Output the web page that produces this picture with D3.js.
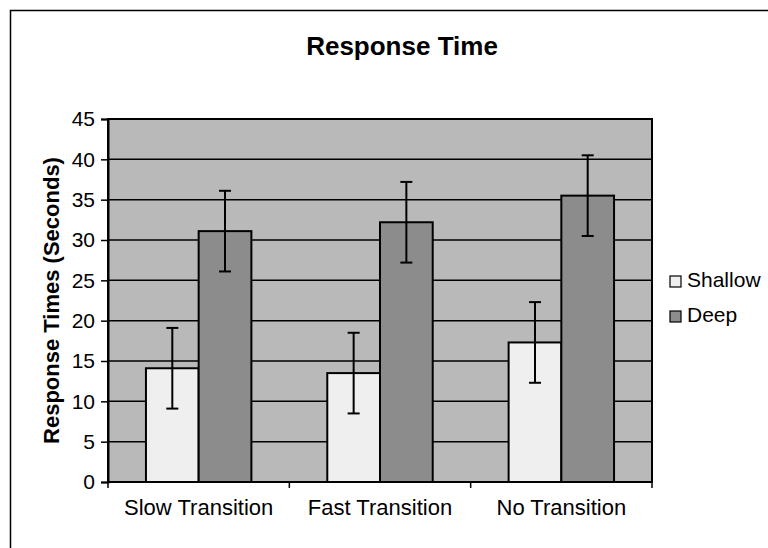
<!DOCTYPE html>
<html>
<head>
<meta charset="utf-8">
<script src="https://cdn.jsdelivr.net/npm/d3@7"></script>
<style>
  body { margin: 0; background: #fff; }
  text { font-family: "Liberation Sans", Arial, sans-serif; fill: #000; }
</style>
</head>
<body>
<div id="graph"></div>
<script>
const categories = ['Slow Transition', 'Fast Transition', 'No Transition'];
const seriesNames = ['Shallow', 'Deep'];
const shallowValues = [14.1, 13.5, 17.3];
const deepValues = [31.1, 32.2, 35.5];
const shallowErrors = [5, 5, 5];
const deepErrors = [5, 5, 5];
const yTicks = [0, 5, 10, 15, 20, 25, 30, 35, 40, 45];

const width = 768, height = 548;
const margin = { top: 119, left: 108, right: 116, bottom: 66 };
const chartWidth = width - margin.left - margin.right;
const chartHeight = height - margin.top - margin.bottom;

const colors = { Shallow: '#efefef', Deep: '#8c8c8c' };

const svg = d3.select('#graph').append('svg')
  .attr('width', width)
  .attr('height', height);

// outer chart frame
svg.append('rect')
  .attr('x', 10.5).attr('y', 10.5)
  .attr('width', width).attr('height', height)
  .attr('fill', 'none')
  .attr('stroke', '#000')
  .attr('stroke-width', 1.5);

svg.append('text')
  .attr('x', 402).attr('y', 55)
  .attr('text-anchor', 'middle')
  .attr('font-size', 26)
  .attr('font-weight', 'bold')
  .text('Response Time');

const rows = categories.map(function(c, i) {
  return {
    category: c,
    bars: [
      { series: 'Shallow', value: shallowValues[i], err: shallowErrors[i] },
      { series: 'Deep', value: deepValues[i], err: deepErrors[i] }
    ]
  };
});

const x0 = d3.scaleBand().domain(categories).range([0, chartWidth]).padding(0);
const x1 = d3.scaleBand().domain(seriesNames).range([0, x0.bandwidth()]).paddingInner(0).paddingOuter(0.72);
const y = d3.scaleLinear().domain([0, 45]).range([chartHeight, 0]);

const chartLayer = svg.append('g')
  .attr('transform', 'translate(' + [margin.left, margin.top] + ')');

chartLayer.append('rect')
  .attr('width', chartWidth)
  .attr('height', chartHeight)
  .attr('fill', '#b9b9b9')
  .attr('stroke', '#000')
  .attr('stroke-width', 2);

chartLayer.append('g')
  .selectAll('line')
  .data(yTicks.filter(function(d) { return d > 0; }))
  .enter().append('line')
  .attr('x1', 0).attr('x2', chartWidth)
  .attr('y1', function(d) { return y(d); })
  .attr('y2', function(d) { return y(d); })
  .attr('stroke', '#000')
  .attr('stroke-width', 1.5);

const groups = chartLayer.selectAll('.group')
  .data(rows)
  .enter().append('g')
  .attr('class', 'group')
  .attr('transform', function(d) { return 'translate(' + x0(d.category) + ',0)'; });

groups.selectAll('rect')
  .data(function(d) { return d.bars; })
  .enter().append('rect')
  .attr('x', function(d) { return x1(d.series); })
  .attr('y', function(d) { return y(d.value); })
  .attr('width', x1.bandwidth())
  .attr('height', function(d) { return chartHeight - y(d.value); })
  .attr('fill', function(d) { return colors[d.series]; })
  .attr('stroke', '#000')
  .attr('stroke-width', 2);

const errs = groups.selectAll('.err')
  .data(function(d) { return d.bars; })
  .enter().append('g')
  .attr('class', 'err')
  .attr('stroke', '#000')
  .attr('stroke-width', 2);

errs.append('line')
  .attr('x1', function(d) { return x1(d.series) + x1.bandwidth() / 2; })
  .attr('x2', function(d) { return x1(d.series) + x1.bandwidth() / 2; })
  .attr('y1', function(d) { return y(d.value + d.err); })
  .attr('y2', function(d) { return y(d.value - d.err); });

[1, -1].forEach(function(s) {
  errs.append('line')
    .attr('x1', function(d) { return x1(d.series) + x1.bandwidth() / 2 - 6; })
    .attr('x2', function(d) { return x1(d.series) + x1.bandwidth() / 2 + 6; })
    .attr('y1', function(d) { return y(d.value + s * d.err); })
    .attr('y2', function(d) { return y(d.value + s * d.err); });
});

// y axis
const yAxis = chartLayer.append('g')
  .call(d3.axisLeft(y).tickValues(yTicks).tickSize(7).tickPadding(6));
yAxis.select('.domain').attr('stroke-width', 2);
yAxis.selectAll('.tick line').attr('stroke-width', 1.5);
yAxis.selectAll('text').attr('font-size', 21).attr('font-family', '"Liberation Sans", Arial, sans-serif');

// x axis: ticks at category boundaries
const xAxis = chartLayer.append('g')
  .attr('transform', 'translate(0,' + chartHeight + ')');
xAxis.append('line')
  .attr('x1', 0).attr('x2', chartWidth)
  .attr('stroke', '#000').attr('stroke-width', 2);
xAxis.selectAll('.bound')
  .data(d3.range(categories.length + 1))
  .enter().append('line')
  .attr('x1', function(i) { return i * x0.step(); })
  .attr('x2', function(i) { return i * x0.step(); })
  .attr('y1', 0).attr('y2', 6)
  .attr('stroke', '#000').attr('stroke-width', 1.5);
xAxis.selectAll('.lbl')
  .data(categories)
  .enter().append('text')
  .attr('x', function(d) { return x0(d) + x0.bandwidth() / 2; })
  .attr('y', 33)
  .attr('text-anchor', 'middle')
  .attr('font-size', 22)
  .text(function(d) { return d; });

svg.append('text')
  .attr('transform', 'translate(59,' + (margin.top + chartHeight / 2) + ') rotate(-90)')
  .attr('text-anchor', 'middle')
  .attr('font-size', 22)
  .attr('font-weight', 'bold')
  .text('Response Times (Seconds)');

// legend
const legend = svg.append('g')
  .attr('transform', 'translate(670,276)');
const item = legend.selectAll('g')
  .data(seriesNames)
  .enter().append('g')
  .attr('transform', function(d, i) { return 'translate(0,' + (i * 35) + ')'; });
item.append('rect')
  .attr('width', 11).attr('height', 11)
  .attr('fill', function(d) { return colors[d]; })
  .attr('stroke', '#000').attr('stroke-width', 1.2);
item.append('text')
  .attr('x', 17).attr('y', 11)
  .attr('font-size', 21)
  .text(function(d) { return d; });
</script>
</body>
</html>
